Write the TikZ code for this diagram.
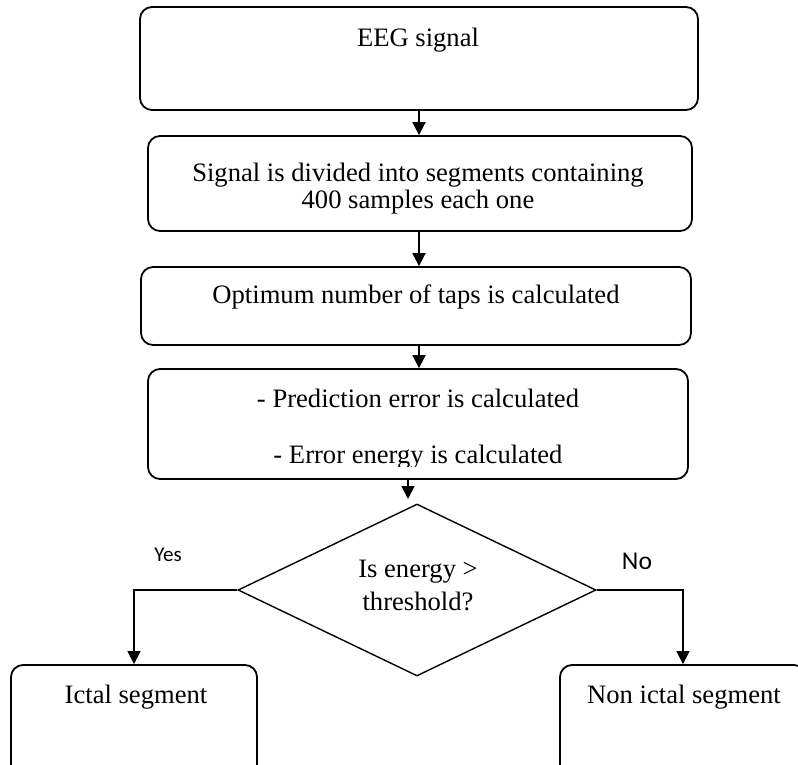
\documentclass[tikz,border=0pt]{standalone}
\usepackage{fontspec}
\setmainfont{Liberation Serif}
\newfontfamily\yesnofont{Carlito}
\usetikzlibrary{arrows.meta,shapes.geometric}

\tikzset{
  procbox/.style={draw, line width=1.8pt, rounded corners=12pt, inner sep=0pt},
  testbox/.style={draw, diamond, line width=1.4pt, inner sep=0pt},
  boxtext/.style={inner sep=0pt, anchor=base, align=center,
    font=\fontsize{26.6}{27}\selectfont},
  flowarrow/.style={line width=1.8pt, -{Triangle[length=13pt,width=13pt]}},
  branch/.style={line width=1.4pt, -{Triangle[length=13pt,width=13pt]}}
}

\begin{document}
\begin{tikzpicture}[x=1pt, y=-1pt]
      \useasboundingbox (0,0) rectangle (798,765);

      % 'EEG signal'
      \node[procbox, minimum width=558pt, minimum height=103pt] at (419,58.5) (eeg) {};
      \node[boxtext] at (418,47) (eegtxt) {EEG signal};

      % 'segments'
      \node[procbox, minimum width=544pt, minimum height=95pt] at (420,183.5) (divide) {};
      \node[boxtext] at (418,208) (dividetxt) {Signal is divided into segments containing\\400 samples each one};
      \draw[flowarrow] (eeg.south) -- (eeg.south |- divide.north);

      % 'taps'
      \node[procbox, minimum width=550pt, minimum height=78pt] at (416,306) (taps) {};
      \node[boxtext] at (416,303) (tapstxt) {Optimum number of taps is calculated};
      \draw[flowarrow] (divide.south -| eeg.south) -- (eeg.south |- taps.north);

      % 'error'
      \node[procbox, minimum width=540pt, minimum height=110pt] at (418,424) (error) {};
      \begin{scope}
        \clip (140,369) rectangle (700,466);
        \node[boxtext] at (418,463) (errortxt) {- Prediction error is calculated\\[29pt]- Error energy is calculated};
      \end{scope}
      \draw[flowarrow] (taps.south -| eeg.south) -- (eeg.south |- error.north);

      % 'energy > threshold'
      \node[testbox, minimum width=358pt, minimum height=172pt] at (417,590) (test) {};
      \node[boxtext] at (418,610) (testtxt) {Is energy >\\[6pt]threshold?};
      \coordinate (errtip) at (408,499);
      \draw[flowarrow] (errtip |- error.south) -- (errtip);

      % 'ictal'
      \node[procbox, minimum width=246pt, minimum height=130pt] at (134,730) (ictal) {};
      \node[boxtext] at (136,703) (ictaltxt) {Ictal segment};
      \draw[branch] (test.west) -| (ictal.north);
      \node[inner sep=0pt, font=\yesnofont\fontsize{21}{24}\selectfont] at (168,555) (yes) {Yes};

      % 'non ictal'
      \node[procbox, minimum width=246pt, minimum height=130pt] at (683,730) (nonictal) {};
      \node[boxtext] at (684,703) (nonictaltxt) {Non ictal segment};
      \draw[branch] (test.east) -| (nonictal.north);
      \node[inner sep=0pt, font=\yesnofont\fontsize{25.6}{28}\selectfont] at (637,561) (no) {No};
    \end{tikzpicture}
\end{document}
